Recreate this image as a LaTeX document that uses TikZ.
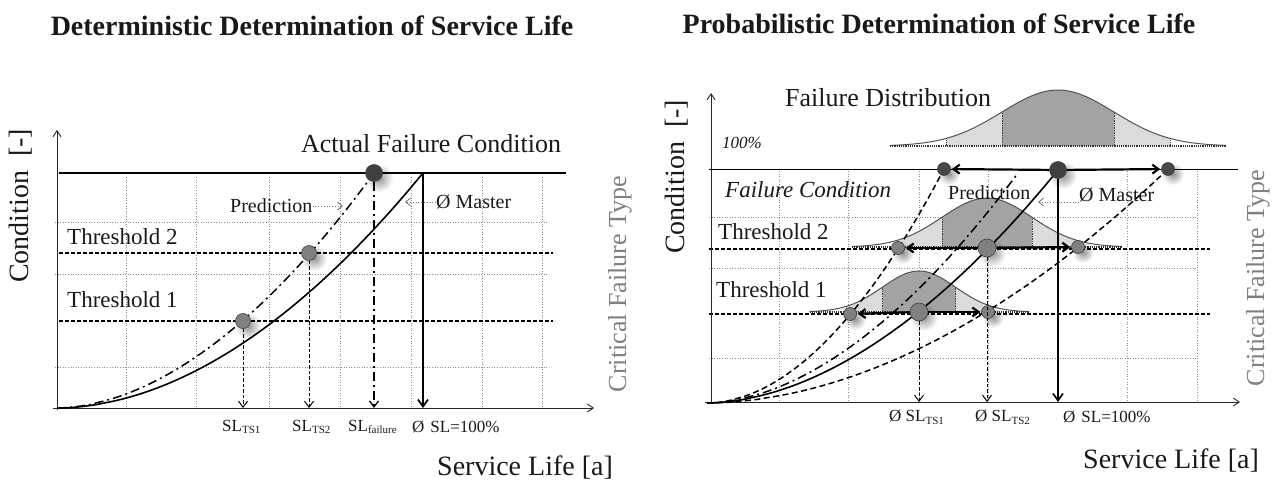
\documentclass[tikz,border=0pt]{standalone}
\usepackage{fontspec}
\setmainfont{Liberation Serif}
\usetikzlibrary{arrows.meta,fadings}
\definecolor{gridc}{gray}{0.55}
\definecolor{darkband}{gray}{0.64}
\definecolor{lightband}{gray}{0.86}
\definecolor{bellc}{gray}{0.33}
\definecolor{txt}{gray}{0.1}
\definecolor{sidetxt}{gray}{0.5}
\definecolor{dotar}{gray}{0.45}
\tikzfading[name=softblob, inner color=transparent!15, outer color=transparent!100]
\newcommand{\fsz}[1]{\fontsize{#1}{#1}\selectfont}
\newcommand{\subl}[1]{\raisebox{-0.35ex}{\fsz{11}#1}}
\newcommand{\blob}[3]{\fill[black,opacity=0.5,path fading=softblob] ({#1+5},{#2+5}) circle (#3);}
\newcommand{\drawbell}[4]{%
  \fill[lightband] ({#1-2*#2},#4) -- plot[domain=-2:2,samples=41] ({#1+#2*\x},{#4-#3*exp(-0.5*\x*\x)}) -- ({#1+2*#2},#4) -- cycle;
  \fill[darkband] ({#1-#2},#4) -- plot[domain=-1:1,samples=31] ({#1+#2*\x},{#4-#3*exp(-0.5*\x*\x)}) -- ({#1+#2},#4) -- cycle;
  \draw[bellc,line width=1pt] plot[domain=-3:3,samples=61] ({#1+#2*\x},{#4-#3*exp(-0.5*\x*\x)});
  \draw[black!80,line width=1.2pt,densely dotted] ({#1-3*#2},#4) -- ({#1+3*#2},#4);
  \foreach \k in {-2,-1,1,2} \draw[black!75,line width=0.7pt,densely dotted] ({#1+\k*#2},#4) -- ({#1+\k*#2},{#4-#3*exp(-0.5*\k*\k)});
}
\begin{document}
\begin{tikzpicture}[x=1pt,y=-1pt,
  axisl/.style={draw=black!85,line width=0.9pt,-{Straight Barb[length=6pt,width=8pt]}},
  gridl/.style={draw=gridc,line width=0.6pt,dotted},
  thrl/.style={draw=black,line width=1.2pt,dash pattern=on 4pt off 2pt},
  topl/.style={draw=black,line width=1.2pt},
  mastercurve/.style={draw=black,line width=1.6pt},
  predcurve/.style={draw=black,line width=1.5pt,dash pattern=on 9pt off 4pt on 2pt off 4pt},
  boundcurve/.style={draw=black,line width=1.5pt,dash pattern=on 6pt off 3.5pt},
  droparr/.style={draw=black,line width=1pt,dash pattern=on 3.5pt off 2pt,-{Straight Barb[length=6pt,width=9pt]}},
  dropdd/.style={draw=black,line width=1.3pt,dash pattern=on 9pt off 4pt on 2pt off 4pt,-{Straight Barb[length=6pt,width=9pt]}},
  dropsolid/.style={draw=black,line width=1.7pt,-{Straight Barb[length=7pt,width=10pt]}},
  harr/.style={draw=black,line width=2.2pt,-{Straight Barb[length=6pt,width=9pt]},shorten >=1pt},
  hintarr/.style={draw=dotar,line width=0.8pt,dotted,-{Straight Barb[length=5pt,width=8pt]}},
  dot/.style={circle,inner sep=0pt,draw=black!75,line width=0.6pt},
  bigdark/.style={dot,minimum size=17pt,fill=black!75},
  smalldark/.style={dot,minimum size=13pt,fill=black!72},
  biggray/.style={dot,minimum size=18pt,fill=black!50},
  midgray/.style={dot,minimum size=15pt,fill=black!50},
  smallgray/.style={dot,minimum size=13pt,fill=black!50},
  lab/.style={inner sep=0pt,text=txt},
  side/.style={inner sep=0pt,text=sidetxt,rotate=90,font=\fsz{26}},
]
\useasboundingbox (0,0) rectangle (1277,481);

% ---------- titles
\node[lab,font=\bfseries\fsz{28}] (t1) at (312,26) {Deterministic Determination of Service Life};
\node[lab,font=\bfseries\fsz{28}] (t2) at (939,24) {Probabilistic Determination of Service Life};

% ================= LEFT PANEL =================
\foreach \gx in {126,196,269,340,411,482,542} \draw[gridl] (\gx,177) -- (\gx,406);
\foreach \gy in {222,274,367} \draw[gridl] (55,\gy) -- (549,\gy);
\draw[thrl] (59,253) -- (553,253);
\draw[thrl] (59,321) -- (553,321);
\coordinate (LO) at (57,408);
\coordinate (LYs) at (57,410);
\coordinate (LYt) at (57,130);
\coordinate (LXs) at (53,408);
\coordinate (LXt) at (594,408);
\draw[axisl] (LYs) -- (LYt);
\draw[axisl] (LXs) -- (LXt);
\draw[topl] (59,173) -- (566,173);

\node[lab,font=\fsz{26}] (afc) at (431,144) {Actual Failure Condition};
\node[lab,font=\fsz{23},anchor=west] (lth2) at (67,237) {Threshold 2};
\node[lab,font=\fsz{23},anchor=west] (lth1) at (67,300) {Threshold 1};

\draw[mastercurve] (LO) -- plot[domain=0.01:1,samples=60] ({57+366*\x},{408-235*\x^1.9});
\draw[predcurve] (LO) -- plot[domain=0.01:1,samples=60] ({57+317*\x},{408-235*\x^1.85});

\blob{243}{321}{13}
\blob{309}{253}{13}
\blob{374}{173}{14}
\node[midgray] (L1) at (243,321) {};
\node[midgray] (L2) at (309,253) {};
\node[bigdark] (LF) at (374,173) {};
\coordinate (L1b) at (243,408);
\coordinate (L2b) at (309,408);
\coordinate (LFb) at (374,408);
\coordinate (LM) at (423,173);
\coordinate (LMb) at (423,408);
\draw[droparr] (L1) -- (L1b);
\draw[droparr] (L2) -- (L2b);
\draw[dropdd] (LF) -- (LFb);
\draw[dropsolid] (LM) -- (LMb);

\node[lab,font=\fsz{20},anchor=west] (lpred) at (230,206) {Prediction};
\coordinate (lpredt) at (343,206);
\draw[hintarr] (lpred) -- (lpredt);
\node[lab,font=\fsz{20},anchor=west] (lmas) at (436,202) {Ø Master};
\coordinate (lmast) at (405,202);
\draw[hintarr] (lmas) -- (lmast);

\node[lab,font=\fsz{17},anchor=west] (sl1) at (222,427) {SL\subl{TS1}};
\node[lab,font=\fsz{17},anchor=west] (sl2) at (292,427) {SL\subl{TS2}};
\node[lab,font=\fsz{17},anchor=west] (slf) at (348,427) {SL\subl{failure}};
\node[lab,font=\fsz{17},anchor=west] (slp) at (412,427) {Ø\hspace{6pt}SL=100\%};

\node[lab,font=\fsz{28},rotate=90] (lcond) at (21,206) {Condition\hspace{14pt}[-]};
\node[lab,font=\fsz{28},anchor=west] (lsl) at (437,468) {Service Life [a]};
\node[side] (lcft) at (620,284) {Critical Failure Type};

% ================= RIGHT PANEL =================
\foreach \gx in {779,848,919,988,1058,1127,1197} \draw[gridl] (\gx,171) -- (\gx,401);
\foreach \gy in {217,268,358} \draw[gridl] (709,\gy) -- (1196,\gy);
\draw[thrl] (709,249) -- (1210,249);
\draw[thrl] (709,314) -- (1210,314);
\coordinate (RO) at (707,403);
\coordinate (RYs) at (711,404);
\coordinate (RYt) at (711,93);
\coordinate (RXs) at (705,402);
\coordinate (RXt) at (1240,402);
\draw[axisl] (RYs) -- (RYt);
\draw[axisl] (RXs) -- (RXt);
\draw[topl] (709,169.5) -- (1238,169.5);

\drawbell{1058}{56}{56}{146}
\drawbell{987}{45}{49}{247}
\drawbell{919}{36.5}{41}{312}

\node[lab,font=\fsz{26},anchor=west] (fdist) at (785,98) {Failure Distribution};
\node[lab,font=\itshape\fsz{17},anchor=west] (hund) at (722,143) {100\%};
\node[lab,font=\itshape\fsz{23},anchor=west] (fcond) at (725,190) {Failure Condition};
\node[lab,font=\fsz{23},anchor=west] (rth2) at (718,232) {Threshold 2};
\node[lab,font=\fsz{23},anchor=west] (rth1) at (716,290) {Threshold 1};
\node[lab,font=\fsz{20},anchor=west] (rpred) at (948,193) {Prediction};
\node[lab,font=\fsz{20},anchor=west] (rmas) at (1079,195) {Ø Master};
\coordinate (rmast) at (1038,202);
\draw[hintarr] ([yshift=-7pt]rmas.west) -- (rmast);

\draw[boundcurve] (RO) -- plot[domain=0.01:1,samples=60] ({707+237*\x},{403-234*\x^1.93});
\draw[boundcurve] (RO) -- plot[domain=0.01:1,samples=60] ({707+461*\x},{403-234*\x^1.88});
\draw[predcurve] (RO) -- plot[domain=0.01:1,samples=60] ({707+311*\x},{403-230*\x^1.82});
\draw[mastercurve] (RO) -- plot[domain=0.01:1,samples=60] ({707+351*\x},{403-233*\x^1.85});

\blob{1058}{170}{14}
\blob{944}{169}{11}
\blob{1168}{169}{11}
\blob{987}{248}{14}
\blob{898}{248}{11}
\blob{1078}{247}{11}
\blob{919}{312}{14}
\blob{850}{314}{11}
\blob{988}{312}{11}
\node[bigdark] (RF) at (1058,170) {};
\node[smalldark] (RFL) at (944,169) {};
\node[smalldark] (RFR) at (1168,169) {};
\node[biggray] (R2) at (987,248) {};
\node[smallgray] (R2L) at (898,248) {};
\node[smallgray] (R2R) at (1078,247) {};
\node[biggray] (R1) at (919,312) {};
\node[smallgray] (R1L) at (850,314) {};
\node[smallgray] (R1R) at (988,312) {};

\draw[harr] (RF) -- (RFL);
\draw[harr] (RF) -- (RFR);
\draw[harr] (R2) -- (R2L);
\draw[harr] (R2) -- (R2R);
\draw[harr] (R1) -- (R1L);
\draw[harr] (R1) -- (R1R);

\coordinate (R1b) at (919,402);
\coordinate (R2b) at (987,402);
\coordinate (RFb) at (1058,402);
\draw[droparr] (R1) -- (R1b);
\draw[droparr] (R2) -- (R2b);
\draw[dropsolid] (RF) -- (RFb);

\node[lab,font=\fsz{17},anchor=west] (rsl1) at (889,417) {Ø SL\subl{TS1}};
\node[lab,font=\fsz{17},anchor=west] (rsl2) at (975,417) {Ø SL\subl{TS2}};
\node[lab,font=\fsz{17},anchor=west] (rslp) at (1063,417) {Ø\hspace{6pt}SL=100\%};

\node[lab,font=\fsz{28},rotate=90] (rcond) at (677,177) {Condition\hspace{14pt}[-]};
\node[lab,font=\fsz{28},anchor=west] (rsl) at (1083,461) {Service Life [a]};
\node[side] (rcft) at (1258,278) {Critical Failure Type};
\end{tikzpicture}
\end{document}
